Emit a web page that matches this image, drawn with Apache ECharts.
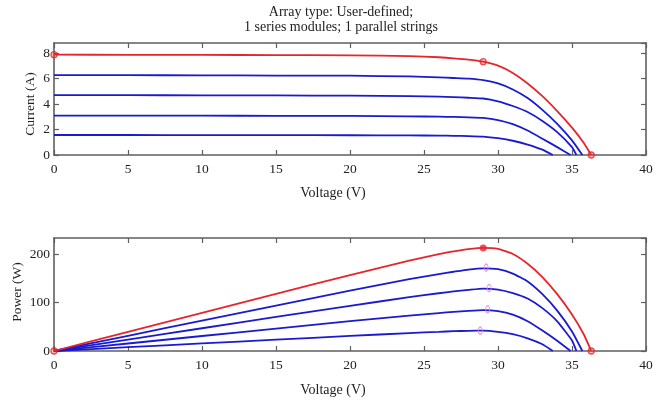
<!DOCTYPE html>
<html>
<head>
<meta charset="utf-8">
<script src="https://cdn.jsdelivr.net/npm/echarts@6/dist/echarts.min.js"></script>
<style>
html,body{margin:0;padding:0;background:#fff;}
#chart{width:663px;height:404px;}
</style>
</head>
<body>
<div id="chart"></div>
<script>
// ---- data ----
const titleLines = ['Array type: User-defined;', '1 series modules; 1 parallel strings'];
const xTicks = [0, 5, 10, 15, 20, 25, 30, 35, 40];

const vRed = [0,5,10,15,20,24,26,27,28,29,30,31,32,33,34,35,35.8,36.3];
const iRed = [7.88,7.87,7.86,7.85,7.83,7.77,7.68,7.60,7.50,7.33,7.02,6.45,5.62,4.62,3.45,2.15,0.95,0];
const pRed = [0,39.4,78.6,117.8,156.6,186.5,199.7,205.2,210,212.6,210.6,200,180,152.5,117.3,75.3,34,0];

const vB1 = [0,5,10,15,20,24,26,27,28,29,30,31,32,33,34,35,35.7];
const iB1 = [6.28,6.27,6.26,6.24,6.23,6.17,6.10,6.05,6.00,5.88,5.62,5.15,4.48,3.55,2.45,1.15,0];
const pB1 = [0,31.4,62.6,93.6,124.6,148.1,158.6,163.4,168,170.5,168.6,159.7,143.4,117.2,83.3,40.3,0];

const vB2 = [0,5,10,15,20,24,26,27,28,29,30,31,32,33,34,35,35.3];
const iB2 = [4.70,4.70,4.69,4.68,4.66,4.62,4.58,4.55,4.50,4.44,4.22,3.85,3.38,2.68,1.80,0.62,0];
const pB2 = [0,23.5,46.9,70.2,93.2,110.9,119.1,122.9,126,128.8,126.6,119.4,108.2,88.4,61.2,21.7,0];

const vB3 = [0,5,10,15,20,24,26,27,28,29,30,31,32,33,34,34.9];
const iB3 = [3.10,3.10,3.09,3.08,3.07,3.04,3.01,2.99,2.96,2.91,2.74,2.42,1.92,1.28,0.62,0];
const pB3 = [0,15.5,30.9,46.2,61.4,73,78.3,80.7,82.9,84.4,82.2,75,61.4,42.2,21.1,0];

const vB4 = [0,5,10,15,20,24,26,27,28,29,30,31,32,33,33.7];
const iB4 = [1.57,1.57,1.56,1.56,1.55,1.54,1.52,1.51,1.49,1.45,1.32,1.12,0.82,0.42,0];
const pB4 = [0,7.8,15.6,23.3,31,37,39.5,40.8,41.7,42,39.6,34.7,26.2,13.9,0];

// marked points
const ivMarkV = [0, 29, 36.3];
const ivMarkI = [7.88, 7.33, 0];
const pvMarkV = [0, 36.3];
const pvMarkP = [0, 0];
const pvMppV = [29];
const pvMppP = [212.5];
const blueMppV = [29.2, 29.4, 29.3, 28.8];
const blueMppP = [172, 130, 86, 42];

// ---- chart ----
const FONT = '"Liberation Serif", "Times New Roman", serif';
const RED = '#e6262b';
const BLUE = '#1a1ad2';
const FRAME = '#5f5f5f';

function pairs(xs, ys) { return xs.map((x, k) => [x, ys[k]]); }

const chart = echarts.init(document.getElementById('chart'), null, {renderer: 'canvas'});

function xAx(grid, pos, labels) {
  return {
    type: 'value', gridIndex: grid, position: pos, min: 0, max: 40, interval: 5,
    axisLine: {show: true, onZero: false, lineStyle: {color: FRAME, width: 1.6}},
    axisTick: {show: true, inside: true, length: 5, lineStyle: {color: FRAME, width: 1.2}},
    axisLabel: {show: labels, margin: 7, color: '#222', fontFamily: FONT, fontSize: 13.5,
      formatter: v => xTicks.includes(v) ? String(v) : ''},
    splitLine: {show: false}
  };
}
function yAx(grid, pos, max, interval, labels) {
  return {
    type: 'value', gridIndex: grid, position: pos, min: 0, max: max, interval: interval,
    axisLine: {show: true, onZero: false, lineStyle: {color: FRAME, width: 1.6}},
    axisTick: {show: true, inside: true, length: 5, lineStyle: {color: FRAME, width: 1.2}},
    axisLabel: {show: labels, margin: 4, color: '#222', fontFamily: FONT, fontSize: 13.5, showMaxLabel: false},
    splitLine: {show: false}
  };
}

function curve(name, xi, yi, xs, ys, color, z) {
  return {
    name: name, type: 'line', xAxisIndex: xi, yAxisIndex: yi,
    data: pairs(xs, ys), showSymbol: false, symbol: 'none',
    smooth: 0.15,
    lineStyle: {color: color, width: 1.8}, z: z, silent: true
  };
}

const option = {
  backgroundColor: '#fff',
  animation: false,
  grid: [
    {left: 54, right: 17, top: 43, height: 112},
    {left: 54, right: 17, top: 238, height: 113}
  ],
  xAxis: [xAx(0, 'bottom', true), xAx(0, 'top', false), xAx(1, 'bottom', true), xAx(1, 'top', false)],
  yAxis: [yAx(0, 'left', 8.8, 2, true), yAx(0, 'right', 8.8, 2, false),
          yAx(1, 'left', 233, 100, true), yAx(1, 'right', 233, 100, false)],
  series: [
    curve('I4', 0, 0, vB4, iB4, BLUE, 2),
    curve('I3', 0, 0, vB3, iB3, BLUE, 2),
    curve('I2', 0, 0, vB2, iB2, BLUE, 2),
    curve('I1', 0, 0, vB1, iB1, BLUE, 2),
    curve('I0', 0, 0, vRed, iRed, RED, 3),
    curve('P4', 2, 2, vB4, pB4, BLUE, 2),
    curve('P3', 2, 2, vB3, pB3, BLUE, 2),
    curve('P2', 2, 2, vB2, pB2, BLUE, 2),
    curve('P1', 2, 2, vB1, pB1, BLUE, 2),
    curve('P0', 2, 2, vRed, pRed, RED, 3),
    {type: 'scatter', xAxisIndex: 0, yAxisIndex: 0, data: pairs(ivMarkV, ivMarkI),
     symbol: 'circle', symbolSize: 6, itemStyle: {color: 'rgba(230,38,43,0.35)', borderColor: RED, borderWidth: 1.3}, z: 5, silent: true},
    {type: 'scatter', xAxisIndex: 2, yAxisIndex: 2, data: pairs(pvMarkV, pvMarkP),
     symbol: 'circle', symbolSize: 6, itemStyle: {color: 'rgba(230,38,43,0.35)', borderColor: RED, borderWidth: 1.3}, z: 5, silent: true},
    {type: 'scatter', xAxisIndex: 2, yAxisIndex: 2, data: pairs(pvMppV, pvMppP),
     symbol: 'circle', symbolSize: 7, itemStyle: {color: RED}, z: 5, silent: true},
    {type: 'scatter', xAxisIndex: 2, yAxisIndex: 2, data: pairs(blueMppV, blueMppP),
     symbol: 'circle', symbolSize: [4, 7], itemStyle: {color: 'rgba(255,255,255,0)', borderColor: '#e48ae6', borderWidth: 1.2}, z: 5, silent: true}
  ],
  graphic: [
    {type: 'text', x: 341, y: 12, style: {text: titleLines[0], font: '14px ' + FONT, fill: '#222', textAlign: 'center', textVerticalAlign: 'middle'}},
    {type: 'text', x: 341, y: 27, style: {text: titleLines[1], font: '14px ' + FONT, fill: '#222', textAlign: 'center', textVerticalAlign: 'middle'}},
    {type: 'text', x: 30, y: 104, rotation: Math.PI / 2, style: {text: 'Current (A)', font: '13.5px ' + FONT, fill: '#222', textAlign: 'center', textVerticalAlign: 'middle'}},
    {type: 'text', x: 333, y: 193, style: {text: 'Voltage (V)', font: '14px ' + FONT, fill: '#222', textAlign: 'center', textVerticalAlign: 'middle'}},
    {type: 'text', x: 17, y: 292, rotation: Math.PI / 2, style: {text: 'Power (W)', font: '13.5px ' + FONT, fill: '#222', textAlign: 'center', textVerticalAlign: 'middle'}},
    {type: 'text', x: 333, y: 390, style: {text: 'Voltage (V)', font: '14px ' + FONT, fill: '#222', textAlign: 'center', textVerticalAlign: 'middle'}}
  ]
};
chart.setOption(option);
</script>
</body>
</html>
